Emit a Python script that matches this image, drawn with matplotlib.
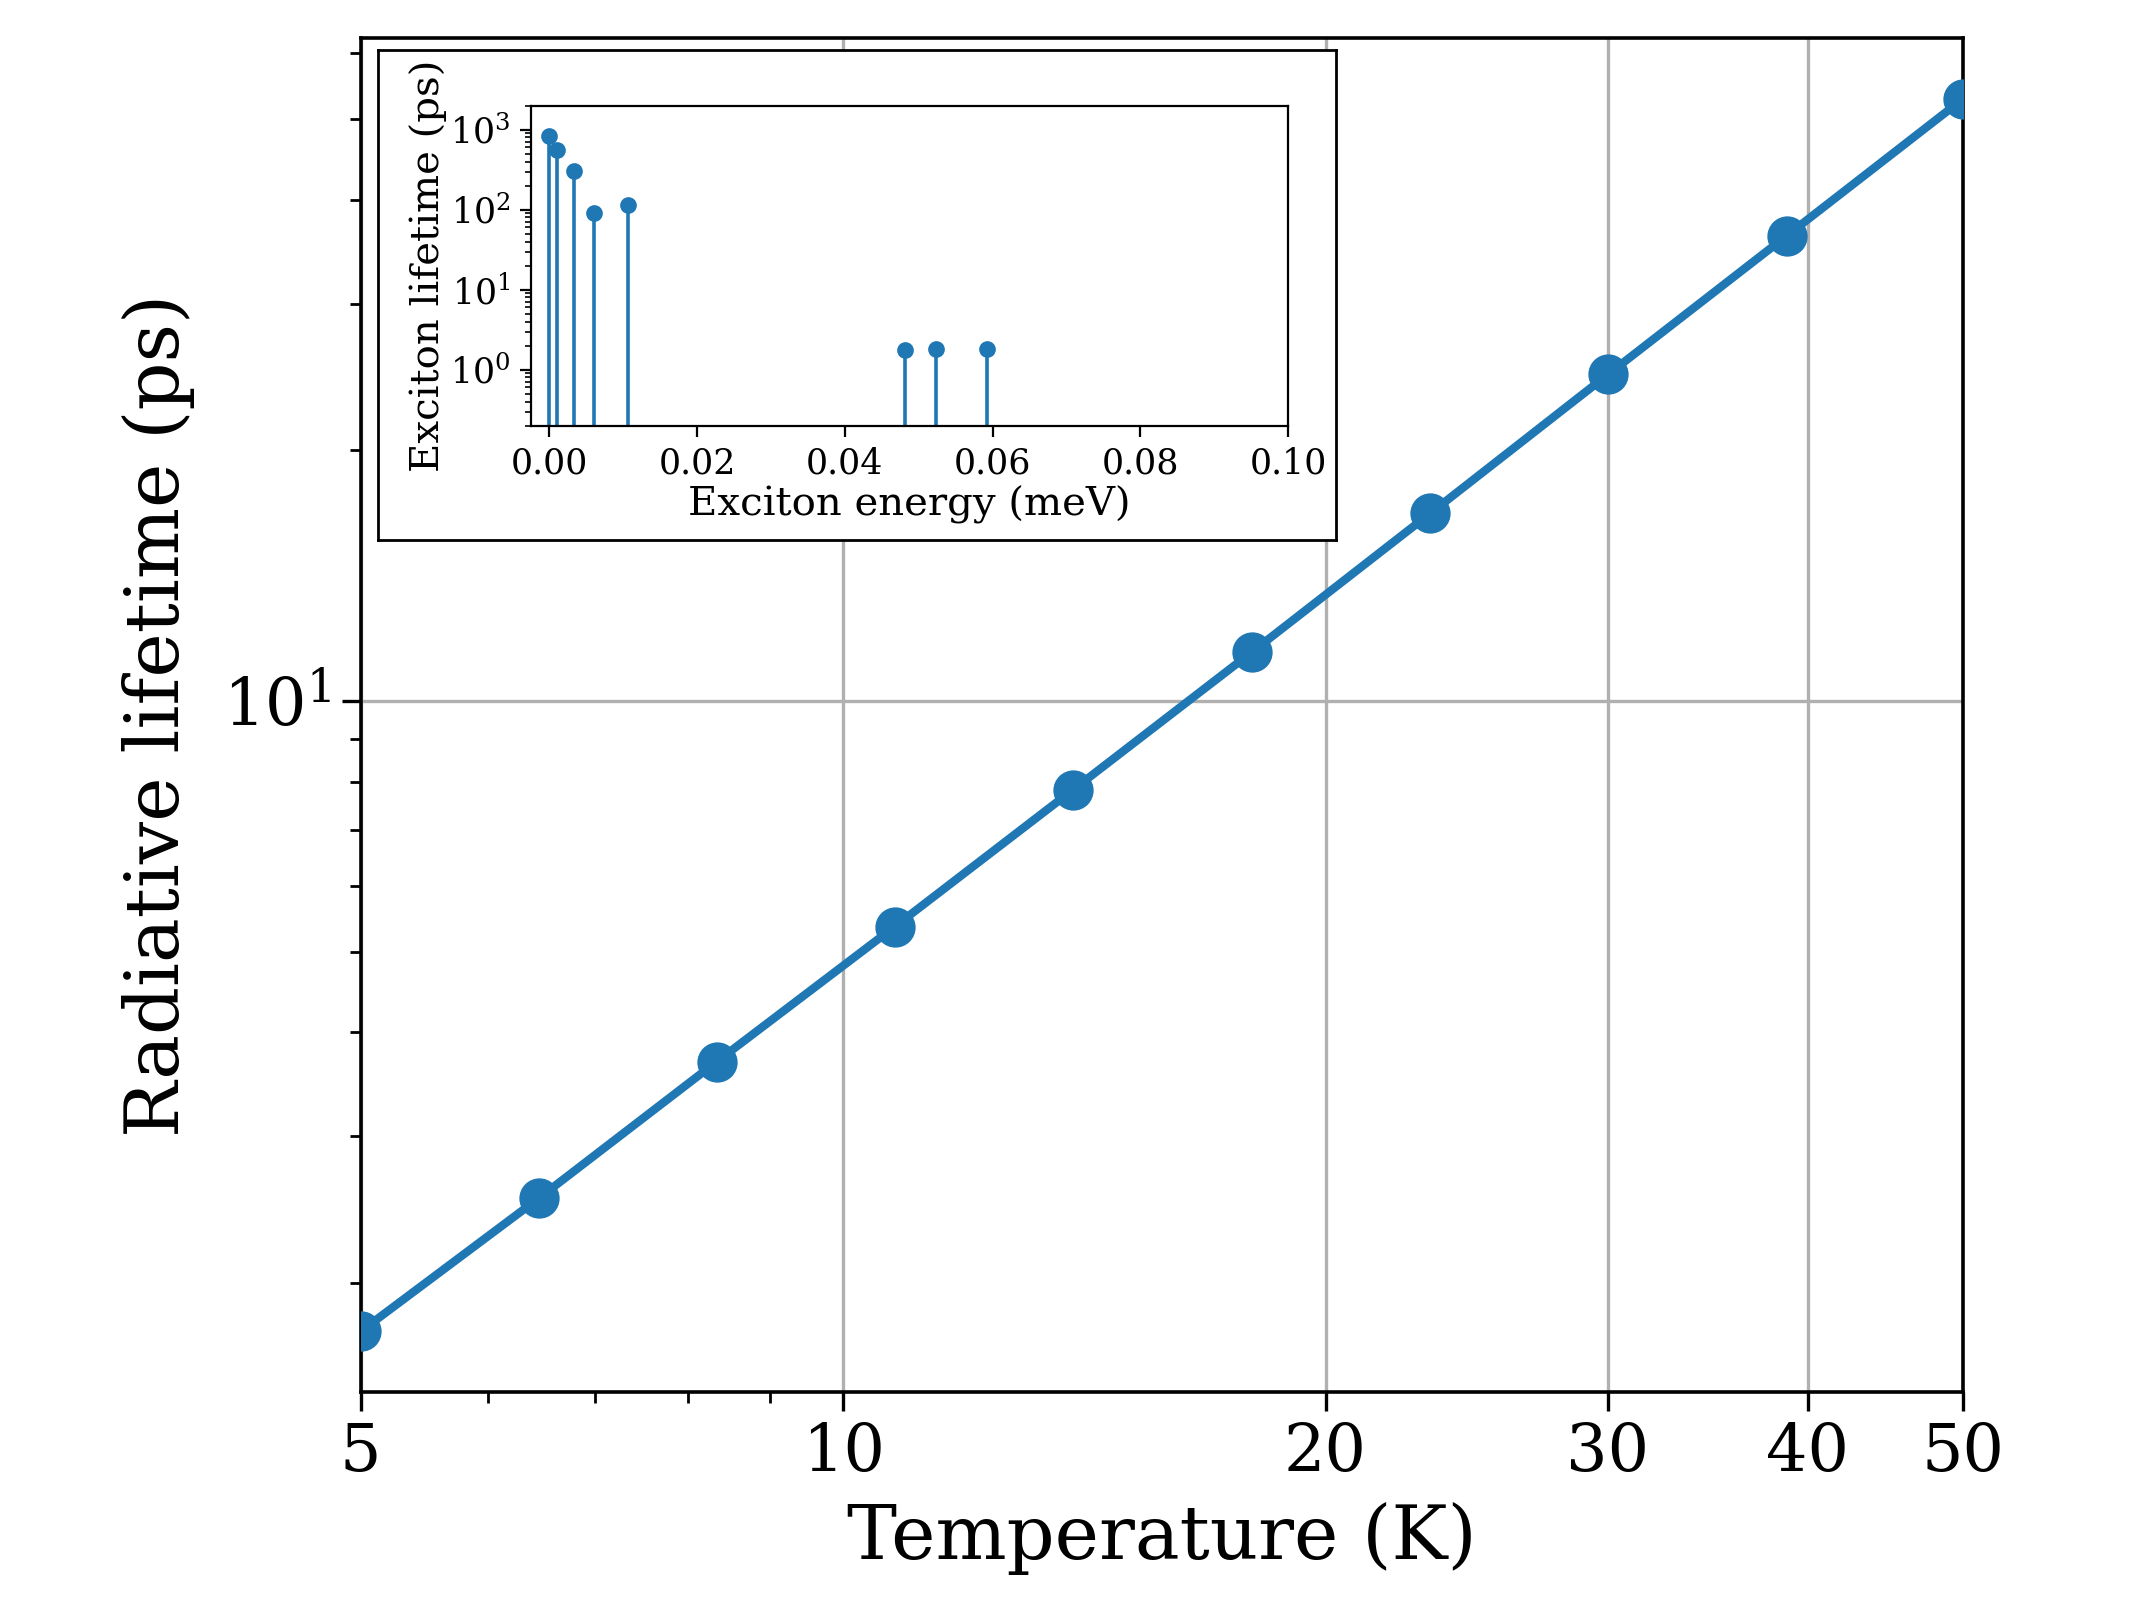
import matplotlib
matplotlib.use("Agg")
import matplotlib.pyplot as plt
from matplotlib.ticker import ScalarFormatter, NullFormatter

# -------------------------------
# DATOS
# -------------------------------
temperatura = [5.0, 6.46, 8.34, 10.77, 13.92, 17.99, 23.24, 30.03, 38.79, 50.0]
tiempo_rad = [1.75, 2.53, 3.69, 5.36, 7.83, 11.45, 16.8, 24.7, 36.2, 52.9]

energia_exc = [0.0000, 0.0010, 0.0033, 0.0060, 0.0106, 0.0481, 0.0524, 0.0593]
tiempo_exc = [840, 560, 305, 92, 114, 1.74, 1.79, 1.79]

xticks_main = [5, 10, 20, 30, 40, 50]
xticks_inset = [0.00, 0.02, 0.04, 0.06, 0.08, 0.10]
yticks_inset = [1, 10, 100, 1000]

AZUL = "#1f77b4"

plt.rcParams["font.family"] = "DejaVu Serif"
plt.rcParams["mathtext.fontset"] = "dejavuserif"

# -------------------------------
# FIGURA PRINCIPAL
# -------------------------------
fig = plt.figure(figsize=(10.67, 8), dpi=200)
ax = fig.add_axes([0.169, 0.130, 0.751, 0.846])

ax.plot(temperatura, tiempo_rad, "-o", color=AZUL, lw=3, ms=13.5, zorder=3)
ax.set_xscale("log")
ax.set_yscale("log")
ax.set_xlim(5, 50)
ax.set_ylim(1.48, 62.5)
ax.set_xticks(xticks_main)
ax.xaxis.set_major_formatter(ScalarFormatter())
ax.xaxis.set_minor_formatter(NullFormatter())
ax.grid(True, which="major", color="#b0b0b0", lw=1.2)
ax.tick_params(labelsize=23.5, width=1.2, length=7)
ax.tick_params(which="minor", width=1.0, length=4)
for s in ax.spines.values():
    s.set_linewidth(1.3)
ax.set_xlabel("Temperature (K)", fontsize=27, labelpad=6)
ax.set_ylabel("Radiative lifetime (ps)", fontsize=27, labelpad=10)

# -------------------------------
# RECUADRO DEL INSET
# -------------------------------
marco = fig.add_axes([0.177, 0.6625, 0.449, 0.3065])
marco.set_xticks([])
marco.set_yticks([])
marco.set_facecolor("white")
marco.set_zorder(4)
for s in marco.spines.values():
    s.set_linewidth(1.0)

ins = fig.add_axes([0.2488, 0.734, 0.3548, 0.200])
ins.set_zorder(5)
ins.set_yscale("log")
ml, sl, bl = ins.stem(energia_exc, tiempo_exc, basefmt=" ", bottom=0.01)
plt.setp(ml, color=AZUL, markersize=5)
plt.setp(sl, color=AZUL, linewidth=1.3)
ins.set_xlim(-0.0025, 0.1)
ins.set_ylim(0.2, 2000)
ins.set_xticks(xticks_inset)
ins.set_yticks(yticks_inset)
ins.tick_params(labelsize=12.5, length=4)
ins.set_xlabel("Exciton energy (meV)", fontsize=14.5, labelpad=2)
ins.set_ylabel("Exciton lifetime (ps)", fontsize=14.5, labelpad=1)

fig.savefig("out.png", dpi=200)
